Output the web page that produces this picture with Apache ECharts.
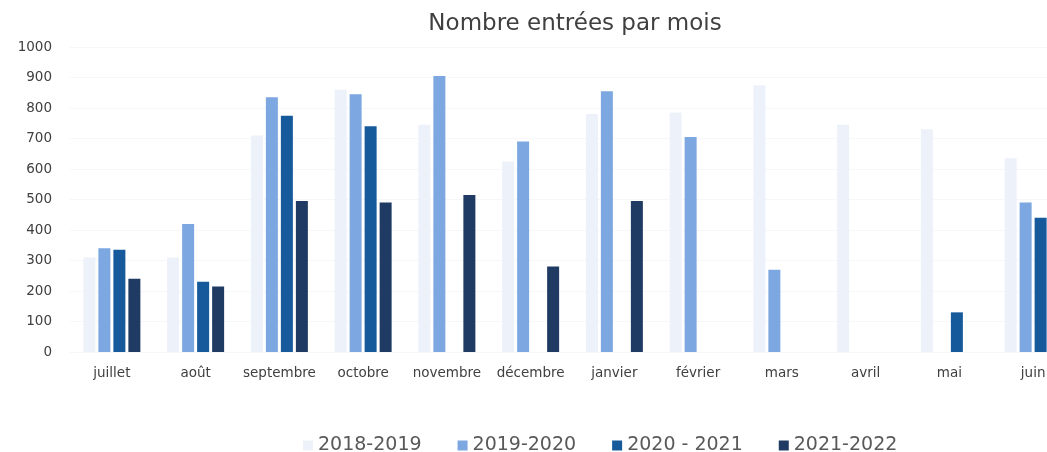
<!DOCTYPE html>
<html>
<head>
<meta charset="utf-8">
<script src="https://cdn.jsdelivr.net/npm/echarts@6/dist/echarts.min.js"></script>
<style>
  html, body { margin: 0; padding: 0; background: #fff; }
  #chart { width: 1047px; height: 452px; }
</style>
</head>
<body>
<div id="chart"></div>
<script>
// mois (catégories)
var mois = ["juillet", "août", "septembre", "octobre", "novembre", "décembre",
  "janvier", "février", "mars", "avril", "mai", "juin"];
// séries
var annees = ["2018-2019", "2019-2020", "2020 - 2021", "2021-2022"];
var v2018 = [310, 310, 710, 860, 745, 625, 780, 785, 875, 745, 730, 635];
var v2019 = [340, 420, 835, 845, 905, 690, 855, 705, 270, null, null, 490];
var v2020 = [335, 230, 775, 740, null, null, null, null, null, null, 130, 440];
var v2021 = [240, 215, 495, 490, 515, 280, 495, null, null, null, null, null];
var couleurs = ["#edf1f9", "#7da7e0", "#175a9b", "#203b63"];

var chart = echarts.init(document.getElementById("chart"));

var valeurs = [v2018, v2019, v2020, v2021];
var series = annees.map(function (nom, i) {
  return {
    name: nom,
    type: "bar",
    data: valeurs[i],
    barWidth: 12,
    barGap: "25%",
    itemStyle: { color: couleurs[i] }
  };
});

chart.setOption({
  animation: false,
  color: couleurs,
  title: {
    text: "Nombre entrées par mois",
    left: 570,
    textAlign: "center",
    top: 8,
    textStyle: { fontFamily: "DejaVu Sans", fontSize: 23, fontWeight: "normal", color: "#404040" }
  },
  legend: {
    data: annees,
    top: 431,
    left: 298,
    itemWidth: 10,
    itemHeight: 10,
    itemGap: 36,
    icon: "rect",
    textStyle: { fontFamily: "DejaVu Sans", fontSize: 19, color: "#595959" }
  },
  grid: { left: 70, right: -28, top: 47, bottom: 100, outerBoundsMode: "none" },
  xAxis: {
    type: "category",
    data: mois,
    axisLine: { show: false },
    axisTick: { show: false },
    axisLabel: { interval: 0, margin: 14, fontFamily: "DejaVu Sans", fontSize: 13.5, color: "#404040" }
  },
  yAxis: {
    type: "value",
    min: 0,
    max: 1000,
    interval: 100,
    axisLine: { show: false },
    axisTick: { show: false },
    splitLine: { lineStyle: { color: "#f6f7fa" } },
    axisLabel: {
      margin: 18,
      fontFamily: "DejaVu Sans",
      fontSize: 13.5,
      color: "#404040",
      formatter: function (v) { return String(v); }
    }
  },
  series: series
});
</script>
</body>
</html>
